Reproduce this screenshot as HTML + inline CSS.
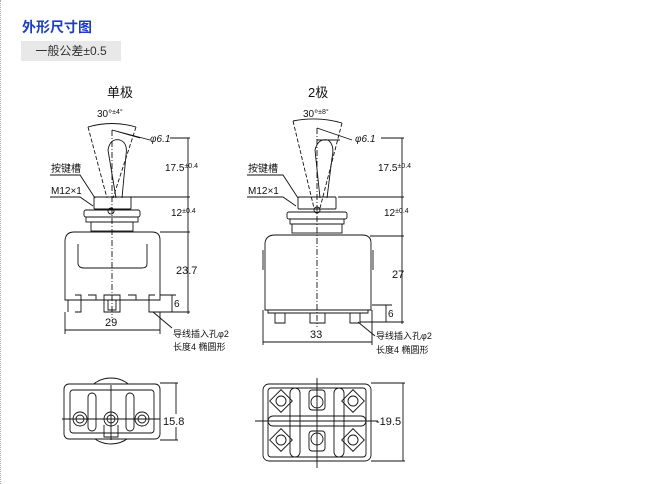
<!DOCTYPE html>
<html><head><meta charset="utf-8"><style>
body{margin:0;background:#fff;width:657px;height:484px;overflow:hidden;font-family:"Liberation Sans","Noto Sans CJK SC",sans-serif}
.dl{position:absolute;left:0;top:0;width:1px;height:484px;border-left:1px dotted #aaa}
.t{position:absolute;left:22px;top:17px;font-size:14px;font-weight:bold;color:#1a3fc4}
.g{position:absolute;left:21px;top:41px;width:100px;height:20px;background:#e8e8e8;font-size:12px;color:#333;text-align:center;line-height:20px}
svg{position:absolute;left:0;top:0}
text{font-family:"Liberation Sans","Noto Sans CJK SC",sans-serif;fill:#111}
</style></head><body>
<div class="dl"></div>
<div class="t">外形尺寸图</div>
<div class="g">一般公差±0.5</div>
<svg width="657" height="484" viewBox="0 0 657 484" fill="none" stroke="#111" stroke-width="0.9">
<!-- LEFT -->
<text x="107" y="97" font-size="13" stroke="none">单极</text>
<text x="97" y="117" font-size="10" stroke="none">30°<tspan font-size="7" dy="-3">±4°</tspan></text>
<path d="M88 127 Q112 120 136 127"/>
<path d="M88 127 L107 198 M136 127 L113 198" stroke-dasharray="4,2"/>
<path d="M112 130 L112 318" stroke-dasharray="6,2,1,2"/>
<path d="M112 130 L150 140 M112 130 L140 138"/>
<path d="M116 198 L108 150 Q110 138 120 140 Q128 143 126 155 L122 198"/>
<text x="150" y="142" font-size="10" stroke="none" font-style="italic">φ6.1</text>
<path d="M170 138 L190 138 M188 138 L188 314"/>
<path d="M130 197 L190 197 M160 232 L190 232 M150 312 L190 312"/>
<text x="165" y="171" font-size="10" stroke="none">17.5<tspan font-size="7" dy="-3">±0.4</tspan></text>
<text x="171" y="216" font-size="10" stroke="none">12<tspan font-size="7" dy="-3">±0.4</tspan></text>
<text x="176" y="274" font-size="11" stroke="none">23.7</text>
<path d="M172 295 L172 312 M160 295 L176 295"/>
<text x="174" y="307" font-size="10" stroke="none">6</text>
<rect x="94" y="197" width="37" height="12" rx="1"/>
<circle cx="111" cy="211" r="3"/>
<rect x="84" y="210" width="56" height="7" rx="2"/>
<rect x="86" y="217" width="52" height="5"/>
<rect x="91" y="222" width="42" height="9"/>
<path d="M65 300 L65 240 Q66 232 74 232 L152 232 Q160 232 160 240 L160 300 Z"/>
<path d="M78 244 L78 264 Q79 268 84 268 L142 268 Q147 268 147 264 L147 244"/>
<path d="M68 300 L68 312 M75 295 h6 v17 h-6 M155 295 h-6 v17 h6 M104 295 h16 v17 h-16 z M108 300 h8 v10 h-8 z M88 295 h8 v5 h-8 M128 295 h8 v5 h-8"/>
<path d="M65 312 L65 334 M160 312 L160 334 M65 330 L160 330"/>
<text x="105" y="326" font-size="11" stroke="none">29</text>
<text x="51" y="172" font-size="10" stroke="none">按键槽</text>
<path d="M50 175 L80 175 L95 198"/>
<text x="51" y="194" font-size="10" stroke="none">M12×1</text>
<path d="M50 197 L80 197 L93 206"/>
<path d="M153 312 L172 328"/>
<text x="173" y="337" font-size="9" stroke="none">导线插入孔φ2</text>
<text x="173" y="350" font-size="9" stroke="none">长度4 椭圆形</text>
<!-- RIGHT -->
<text x="308" y="97" font-size="13" stroke="none">2极</text>
<text x="303" y="117" font-size="10" stroke="none">30°<tspan font-size="7" dy="-3">±8°</tspan></text>
<path d="M293 121 Q318 116 342 123"/>
<path d="M293 121 L314 208 M342 123 L320 208" stroke-dasharray="4,2"/>
<path d="M317 128 L317 327" stroke-dasharray="6,2,1,2"/>
<path d="M317 128 L352 140 M317 140 L340 140"/>
<path d="M320 198 L315 150 Q318 138 328 140 Q335 145 332 158 L327 198"/>
<text x="355" y="142" font-size="10" stroke="none" font-style="italic">φ6.1</text>
<path d="M381 138 L404 138 M402 138 L402 324"/>
<path d="M338 197 L404 197 M370 236 L404 236 M360 322 L404 322"/>
<text x="378" y="171" font-size="10" stroke="none">17.5<tspan font-size="7" dy="-3">±0.4</tspan></text>
<text x="384" y="216" font-size="10" stroke="none">12<tspan font-size="7" dy="-3">±0.4</tspan></text>
<text x="392" y="278" font-size="11" stroke="none">27</text>
<path d="M386 305 L386 322 M372 305 L392 305"/>
<text x="388" y="317" font-size="10" stroke="none">6</text>
<rect x="298" y="197" width="38" height="12" rx="1"/>
<circle cx="317" cy="210" r="3"/>
<rect x="287" y="212" width="60" height="7" rx="2"/>
<rect x="290" y="219" width="54" height="5"/>
<rect x="292" y="224" width="50" height="9"/>
<path d="M265 310 L265 243 Q266 235 275 235 L362 235 Q371 235 371 243 L371 310 Z"/>
<path d="M263 250 L263 270 M373 250 L373 270"/>
<path d="M268 310 h100 v3 h-100 z M275 313 h10 v10 h-10 z M310 313 h15 v10 h-15 z M350 313 h10 v10 h-10 z"/>
<path d="M263 310 L263 345 M372 310 L372 345 M263 342 L372 342"/>
<text x="310" y="338" font-size="11" stroke="none">33</text>
<text x="248" y="172" font-size="10" stroke="none">按键槽</text>
<path d="M247 175 L283 175 L298 198"/>
<text x="248" y="194" font-size="10" stroke="none">M12×1</text>
<path d="M247 197 L283 197 L296 206"/>
<path d="M358 322 L375 336"/>
<text x="376" y="339" font-size="9" stroke="none">导线插入孔φ2</text>
<text x="376" y="353" font-size="9" stroke="none">长度4 椭圆形</text>
<!-- bottom left -->
<ellipse cx="111" cy="411" rx="30" ry="33"/>
<rect x="64" y="384" width="96" height="55" rx="5" fill="#fff"/>
<rect x="70" y="390" width="84" height="43" rx="3"/>
<rect x="88" y="393" width="8" height="38" rx="4"/>
<rect x="126" y="393" width="8" height="38" rx="4"/>
<circle cx="80" cy="419" r="7"/><circle cx="80" cy="419" r="4"/>
<circle cx="111" cy="419" r="7"/><circle cx="111" cy="419" r="4"/>
<circle cx="142" cy="419" r="7"/><circle cx="142" cy="419" r="4"/>
<path d="M104 425 L104 437 L118 437 L118 425"/>
<path d="M62 419 L160 419 M111 385 L111 440"/>
<path d="M160 383 L178 383 M176 383 L176 440 M160 440 L178 440"/>
<rect x="163" y="414" width="23" height="13" fill="#fff" stroke="none"/>
<text x="163" y="425" font-size="11" stroke="none">15.8</text>
<!-- bottom right -->
<rect x="263" y="384" width="108" height="77" rx="6"/>
<rect x="268" y="388" width="98" height="69" rx="3"/>
<rect x="290" y="388" width="10" height="69" rx="5"/>
<rect x="334" y="388" width="10" height="69" rx="5"/>
<rect x="268" y="416" width="98" height="10" rx="5"/>
<g>
<rect x="273" y="393" width="16" height="16" transform="rotate(45 281 401)"/><circle cx="281" cy="401" r="5"/>
<rect x="345" y="393" width="16" height="16" transform="rotate(45 353 401)"/><circle cx="353" cy="401" r="5"/>
<rect x="273" y="432" width="16" height="16" transform="rotate(45 281 440)"/><circle cx="281" cy="440" r="5"/>
<rect x="345" y="432" width="16" height="16" transform="rotate(45 353 440)"/><circle cx="353" cy="440" r="5"/>
<rect x="309" y="390" width="16" height="20" rx="3"/><circle cx="317" cy="402" r="6"/>
<rect x="309" y="431" width="16" height="20" rx="3"/><circle cx="317" cy="439" r="6"/>
</g>
<path d="M255 421 L378 421 M317 378 L317 468"/>
<path d="M371 383 L405 383 M403 383 L403 461 M371 461 L405 461"/>
<rect x="380" y="414" width="22" height="13" fill="#fff" stroke="none"/>
<text x="376" y="425" font-size="11" stroke="none">-19.5</text>
</svg>
</body></html>
